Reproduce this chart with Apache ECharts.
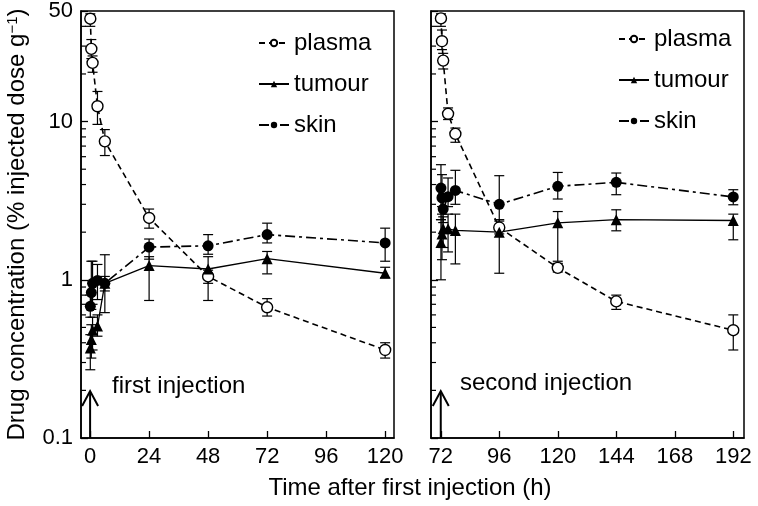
<!DOCTYPE html>
<html>
<head>
<meta charset="utf-8">
<script src="https://cdn.jsdelivr.net/npm/echarts@6/dist/echarts.min.js"></script>
<style>html,body{margin:0;padding:0;background:#fff;}#c{width:758px;height:506px;}</style>
</head>
<body>
<div id="c"></div>
<script>
// ---- data ----
const tFirst = [0.083, 0.5, 1, 3, 6, 24, 48, 72, 120];
const plasmaFirst   = [44.7, 28.8, 23.5, 12.5, 7.5, 2.46, 1.05, 0.67, 0.36];
const plasmaFirstLo = [40, 25, 20.5, 9.6, 6.1, 2.12, 0.95, 0.59, 0.32];
const plasmaFirstHi = [48, 33, 26, 15.5, 8.9, 2.8, 1.15, 0.76, 0.40];
const tumourFirst   = [0.37, 0.42, 0.48, 0.51, 0.95, 1.23, 1.17, 1.36, 1.10];
const tumourFirstLo = [0.27, 0.32, 0.36, 0.44, 0.85, 0.74, 0.74, 1.09, 1.03];
const tumourFirstHi = [0.45, 0.52, 0.58, 0.60, 1.05, 1.40, 1.40, 1.51, 1.20];
const skinFirst     = [0.68, 0.83, 0.95, 0.99, 0.95, 1.61, 1.64, 1.93, 1.71];
const skinFirstLo   = [0.58, 0.65, 0.70, 0.75, 0.62, 1.35, 1.45, 1.71, 1.31];
const skinFirstHi   = [0.80, 1.31, 1.31, 1.25, 1.44, 1.81, 1.93, 2.28, 2.12];

const tSecond = [72.083, 72.5, 73, 75, 78, 96, 120, 144, 192];
const plasmaSecond   = [44.9, 32.2, 24.3, 11.2, 8.36, 2.14, 1.19, 0.73, 0.48];
const plasmaSecondLo = [40, 28.5, 21.5, 10.3, 7.4, 1.95, 1.12, 0.65, 0.36];
const plasmaSecondHi = [48, 37.9, 27, 12.2, 9.1, 2.35, 1.27, 0.80, 0.60];
const tumourSecond   = [1.72, 1.95, 2.1, 2.1, 2.05, 2.0, 2.29, 2.40, 2.37];
const tumourSecondLo = [1.0, 1.34, 1.6, 1.5, 1.26, 1.10, 1.31, 2.04, 1.79];
const tumourSecondHi = [2.4, 2.6, 2.5, 2.6, 2.6, 2.4, 2.7, 2.77, 2.6];
const skinSecond     = [3.8, 3.3, 2.8, 3.35, 3.67, 3.0, 3.9, 4.13, 3.34];
const skinSecondLo   = [2.4, 2.9, 2.3, 2.9, 3.0, 2.2, 3.24, 3.45, 2.98];
const skinSecondHi   = [5.34, 4.62, 3.5, 4.4, 4.92, 4.55, 4.77, 4.73, 3.71];

const xTicksFirst  = [0, 24, 48, 72, 96, 120];
const xTicksSecond = [72, 96, 120, 144, 168, 192];
const minorTicks = [0.2,0.3,0.4,0.5,0.6,0.7,0.8,0.9,2,3,4,5,6,7,8,9,20,30,40];
const injectionTimes = [0, 72];
const seriesNames = ['plasma', 'tumour', 'skin'];

// ---- helpers ----
const FONT = 'Liberation Sans, Arial, Helvetica, sans-serif';
const zip = (t, v) => t.map((x, i) => [x, v[i]]);
const zipErr = (t, lo, hi) => t.map((x, i) => [x, lo[i], hi[i]]);

function errRender(params, api) {
  const x = api.value(0);
  const p1 = api.coord([x, api.value(2)]);
  const p2 = api.coord([x, api.value(1)]);
  const w = 5;
  const st = { stroke: '#000', lineWidth: 1.2 };
  return { type: 'group', children: [
    { type: 'line', shape: { x1: p1[0], y1: p1[1], x2: p2[0], y2: p2[1] }, style: st },
    { type: 'line', shape: { x1: p1[0] - w, y1: p1[1], x2: p1[0] + w, y2: p1[1] }, style: st },
    { type: 'line', shape: { x1: p2[0] - w, y1: p2[1], x2: p2[0] + w, y2: p2[1] }, style: st }
  ]};
}
function minorRender(params, api) {
  const y = api.coord([api.value(0), api.value(1)])[1];
  const x0 = params.coordSys.x;
  return { type: 'line', shape: { x1: x0, y1: y, x2: x0 + 5, y2: y }, style: { stroke: '#000', lineWidth: 1.2 } };
}
function arrowRender(params, api) {
  const p = api.coord([api.value(0), api.value(1)]);
  const x = p[0], yb = params.coordSys.y + params.coordSys.height;
  const tip = yb - 47;
  return { type: 'group', children: [
    { type: 'line', shape: { x1: x, y1: yb, x2: x, y2: tip + 1 }, style: { stroke: '#000', lineWidth: 2 } },
    { type: 'polyline', shape: { points: [[x - 8, tip + 15], [x, tip], [x + 8, tip + 15]] }, style: { stroke: '#000', lineWidth: 2, fill: null } }
  ]};
}

const lineStyles = {
  plasma: { color: '#000', width: 1.6, type: [6, 4] },
  tumour: { color: '#000', width: 1.3, type: 'solid' },
  skin:   { color: '#000', width: 1.6, type: [10, 4, 3, 4] }
};
const symbolStyles = {
  plasma: { symbol: 'circle', itemStyle: { color: '#fff', borderColor: '#000', borderWidth: 1.4 } },
  tumour: { symbol: 'triangle', itemStyle: { color: '#000', borderColor: '#000', borderWidth: 0 } },
  skin:   { symbol: 'circle', itemStyle: { color: '#000', borderColor: '#000', borderWidth: 0 } }
};

function lineSeries(name, idx, t, v) {
  return Object.assign({
    type: 'line', name, xAxisIndex: idx, yAxisIndex: idx,
    data: zip(t, v), symbolSize: 11, showSymbol: true,
    lineStyle: lineStyles[name], z: 5, silent: true
  }, symbolStyles[name]);
}
function errSeries(idx, t, lo, hi) {
  return { type: 'custom', xAxisIndex: idx, yAxisIndex: idx, renderItem: errRender,
    data: zipErr(t, lo, hi), encode: { x: 0, y: [1, 2] }, z: 3, silent: true };
}

const axisLineCommon = { show: true, onZero: false, lineStyle: { color: '#000', width: 1.5 } };

function xAxis(idx, min, max, ticks) {
  return {
    type: 'value', gridIndex: idx, min, max,
    axisLine: axisLineCommon,
    axisTick: { show: true, inside: true, length: 7, lineStyle: { color: '#000', width: 1.3 }, customValues: ticks },
    axisLabel: { color: '#000', fontSize: 22, fontFamily: FONT, margin: 8, customValues: ticks },
    splitLine: { show: false }
  };
}
function yAxis(idx, showLabel) {
  const ax = {
    type: 'log', logBase: 10, gridIndex: idx, min: 0.1, max: 50,
    axisLine: axisLineCommon,
    axisTick: { show: true, inside: true, length: 7, lineStyle: { color: '#000', width: 1.3 } },
    axisLabel: { show: showLabel, color: '#000', fontSize: 22, fontFamily: FONT, margin: 8,
      formatter: v => String(+(+v).toPrecision(3)) },
    splitLine: { show: false }
  };
  if (idx === 0) {
    ax.name = 'Drug concentration (% injected dose g{sup|−1})';
    ax.nameLocation = 'middle';
    ax.nameGap = 52;
    ax.nameRotate = 90;
    ax.nameTextStyle = { color: '#000', fontSize: 24, fontFamily: FONT,
      rich: { sup: { fontSize: 15, fontFamily: FONT, color: '#000', verticalAlign: 'top' } } };
  }
  return ax;
}

function legend(left, top) {
  return {
    data: seriesNames, orient: 'vertical', left, top,
    itemWidth: 30, itemHeight: 8, itemGap: 17, selectedMode: false,
    textStyle: { color: '#000', fontSize: 24, fontFamily: FONT }
  };
}

const series = [];
[[0, tFirst, plasmaFirstLo, plasmaFirstHi], [0, tFirst, tumourFirstLo, tumourFirstHi], [0, tFirst, skinFirstLo, skinFirstHi],
 [1, tSecond, plasmaSecondLo, plasmaSecondHi], [1, tSecond, tumourSecondLo, tumourSecondHi], [1, tSecond, skinSecondLo, skinSecondHi]]
  .forEach(a => series.push(errSeries(a[0], a[1], a[2], a[3])));
series.push(lineSeries('plasma', 0, tFirst, plasmaFirst));
series.push(lineSeries('tumour', 0, tFirst, tumourFirst));
series.push(lineSeries('skin', 0, tFirst, skinFirst));
series.push(lineSeries('plasma', 1, tSecond, plasmaSecond));
series.push(lineSeries('tumour', 1, tSecond, tumourSecond));
series.push(lineSeries('skin', 1, tSecond, skinSecond));
[0, 1].forEach(i => {
  series.push({ type: 'custom', xAxisIndex: i, yAxisIndex: i, renderItem: minorRender,
    data: minorTicks.map(v => [injectionTimes[i], v]), encode: { x: 0, y: 1 }, z: 2, silent: true });
  series.push({ type: 'custom', xAxisIndex: i, yAxisIndex: i, renderItem: arrowRender,
    data: [[injectionTimes[i], 0.1]], encode: { x: 0, y: 1 }, z: 2, silent: true });
});

const chart = echarts.init(document.getElementById('c'), null, { renderer: 'canvas' });
chart.setOption({
  animation: false,
  backgroundColor: '#fff',
  grid: [
    { left: 81, top: 11, width: 313, height: 427, show: true, borderColor: '#000', borderWidth: 1.5, backgroundColor: 'transparent' },
    { left: 431, top: 11, width: 313, height: 427, show: true, borderColor: '#000', borderWidth: 1.5, backgroundColor: 'transparent' }
  ],
  xAxis: [xAxis(0, -3.7, 123.6, xTicksFirst), xAxis(1, 68, 196.4, xTicksSecond)],
  yAxis: [yAxis(0, true), yAxis(1, false)],
  legend: [legend(253, 26), legend(613, 22)],
  graphic: [
    { type: 'text', x: 112, y: 386, style: { text: 'first injection', fontSize: 24, fontFamily: FONT, fill: '#000', align: 'left', verticalAlign: 'middle' } },
    { type: 'text', x: 460, y: 383, style: { text: 'second injection', fontSize: 24, fontFamily: FONT, fill: '#000', align: 'left', verticalAlign: 'middle' } },
    { type: 'text', x: 410, y: 488, style: { text: 'Time after first injection (h)', fontSize: 24, fontFamily: FONT, fill: '#000', align: 'center', verticalAlign: 'middle' } }
  ],
  series
});
</script>
</body>
</html>
